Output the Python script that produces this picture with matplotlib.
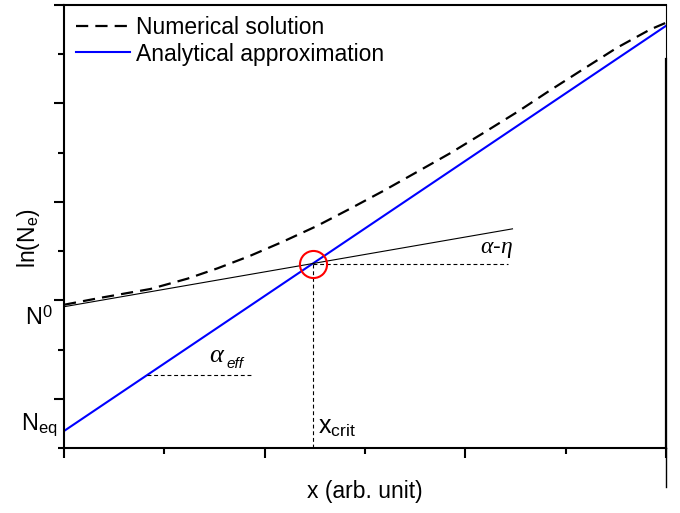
import matplotlib
matplotlib.use("Agg")
import matplotlib.pyplot as plt
import numpy as np

plt.rcParams['font.family'] = ['Liberation Sans', 'DejaVu Sans']
plt.rcParams['mathtext.fontset'] = 'custom'
plt.rcParams['mathtext.rm'] = 'Liberation Sans'
plt.rcParams['mathtext.it'] = 'Liberation Serif:italic'
plt.rcParams['mathtext.sf'] = 'Liberation Sans:italic'

# Numerical solution ln(N_e) vs x
x_num = [0.00, 0.36, 0.86, 1.23, 1.53, 1.85, 2.18, 2.52, 2.85, 3.18,
         3.52, 3.85, 4.18, 4.52, 4.84, 5.17, 5.51, 5.84, 6.00]
y_num = [2.91, 3.05, 3.23, 3.44, 3.65, 3.90, 4.19, 4.51, 4.86, 5.22,
         5.61, 5.99, 6.40, 6.83, 7.26, 7.69, 8.13, 8.50, 8.64]

# Analytical approximation: ln(N_eq) + alpha_eff * x
ln_neq = 0.345
alpha_eff = 1.372
x_lin = [0.0, 6.0]

# Initial tangent: ln(N0) + (alpha - eta) * x
ln_n0 = 2.87
alpha_eta = 0.354
x_tan = [0.0, 4.47]

x_crit = 2.48
x_eff = 0.83

x_ticks_major = [0, 2, 4, 6]
x_ticks_minor = [1, 3, 5]
y_ticks_major = [1, 3, 5, 7, 9]
y_ticks_minor = [0, 2, 4, 6, 8]

fig = plt.figure(figsize=(6.8, 5.13), dpi=100)
ax = fig.add_axes([64/680, 1 - 448/513, (666-64)/680, (448-5)/513])
ax.set_xlim(0, 6)
ax.set_ylim(0, 9)

xl = np.array(x_lin)
ax.plot(x_num, y_num, color='black', lw=1.6, dashes=(5.5, 3.2),
        label='Numerical solution')
ax.plot(xl, ln_neq + alpha_eff * xl, color='#0000ff', lw=1.5,
        label='Analytical approximation')

xt = np.array(x_tan)
ax.plot(xt, ln_n0 + alpha_eta * xt, color='black', lw=0.8)

y_crit = ln_neq + alpha_eff * x_crit
ax.plot([x_crit, 4.43], [y_crit, y_crit], color='black', lw=0.8, dashes=(3.5, 2.5))
ax.plot([x_crit, x_crit], [0, y_crit], color='black', lw=0.8, dashes=(3.5, 2.5))
ax.plot([x_crit], [y_crit], marker='o', ms=19.5, mfc='none', mec='#ff0000', mew=1.5)

y_eff = ln_neq + alpha_eff * x_eff
ax.plot([x_eff, 1.88], [y_eff, y_eff], color='black', lw=0.8, dashes=(3.5, 2.5))

ax.text(4.475, 3.96, r'$\alpha$-$\eta$', ha='right', va='baseline', fontsize=17)
ax.text(1.45, 1.74, r'$\alpha$', ha='left', va='baseline', fontsize=19)
ax.text(1.615, 1.62, 'eff', ha='left', va='baseline', fontsize=11, style='italic')
ax.text(2.53, 0.30, r'x$_{\mathrm{crit}}$', ha='left', va='baseline', fontsize=18)

ax.text(-0.11, 2.64, r'N$^{\mathrm{0}}$', ha='right', va='center', fontsize=17,
        clip_on=False)
ax.text(-0.06, 0.47, r'N$_{\mathrm{eq}}$', ha='right', va='center', fontsize=17,
        clip_on=False)

ax.set_xlabel('x (arb. unit)', fontsize=16.5)
ax.set_ylabel(r'ln(N$_{\mathrm{e}}$)', fontsize=16.5)
ax.xaxis.set_label_coords(0.5, -0.072)
ax.yaxis.set_label_coords(-0.036, 0.474)

ax.set_xticks(x_ticks_major)
ax.set_xticks(x_ticks_minor, minor=True)
ax.set_yticks(y_ticks_major)
ax.set_yticks(y_ticks_minor, minor=True)
ax.tick_params(which='both', direction='out', width=1.5,
               labelbottom=False, labelleft=False)
ax.tick_params(which='major', length=7)
ax.tick_params(which='minor', length=4)

for side in ('left', 'top', 'bottom'):
    ax.spines[side].set_linewidth(1.5)
ax.spines['right'].set_linewidth(0.8)
ax.plot([6, 6], [7.91, 0], color='black', lw=1.6, clip_on=False)
ax.plot([6, 6], [0, -0.79], color='black', lw=1.0, clip_on=False)

leg = ax.legend(loc='upper left', bbox_to_anchor=(0.02, 0.975), frameon=False,
                fontsize=16.5, handlelength=2.35, handletextpad=0.25,
                borderaxespad=0, borderpad=0, labelspacing=0.15)

fig.savefig('out.png', dpi=100)
